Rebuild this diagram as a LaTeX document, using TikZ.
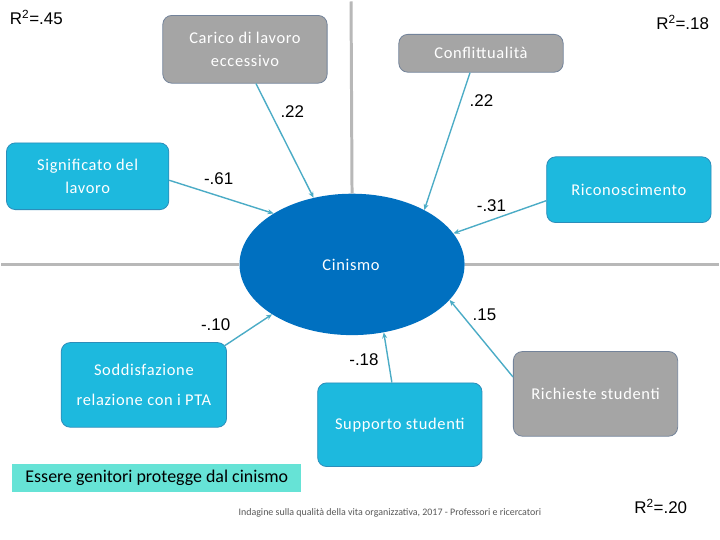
\documentclass[tikz,border=0pt]{standalone}
\usepackage{fontspec}
\setmainfont{Carlito}
\newfontfamily\coeffont{Liberation Sans}
\newfontfamily\spacedfont[LetterSpace=4]{Carlito}
\usetikzlibrary{arrows.meta,shapes.geometric}

\definecolor{boxgray}{HTML}{A5A5A5}
\definecolor{grayedge}{HTML}{73839A}
\definecolor{boxcyan}{HTML}{1DB9DE}
\definecolor{cyanedge}{HTML}{2C8DBA}
\definecolor{cinblue}{HTML}{0070C0}
\definecolor{arrteal}{HTML}{4BACC6}
\definecolor{divgray}{HTML}{B8B8B8}
\definecolor{bannerfill}{HTML}{66E3D6}

\begin{document}
\begin{tikzpicture}[x=1pt, y=-1pt,
  box/.style={draw, rounded corners=9pt, align=center, inner sep=0pt, text=white,
    minimum width=165pt, line width=0.8pt, font=\spacedfont\fontsize{16.5}{23}\selectfont},
  graybox/.style={box, fill=boxgray, draw=grayedge},
  bluebox/.style={box, fill=boxcyan, draw=cyanedge},
  coef/.style={font=\coeffont\fontsize{17}{20}\selectfont},
  arr/.style={-{Stealth[length=6pt,width=5pt]}, arrteal, line width=1.4pt},
  divider/.style={divgray, line width=3pt}
]
\fill[white] (0,0) rectangle (720,540);

% central latent variable
\node[ellipse, fill=cinblue, minimum width=226pt, minimum height=142pt, inner sep=0pt] (cin) at (352,264) {};
\node[text=white, font=\spacedfont\fontsize{16.5}{18}\selectfont] (cinlab) at (351,265) {Cinismo};

% quadrant lines
\coordinate (ltop) at (351,0);
\coordinate (lleft) at (0,264);
\coordinate (lright) at (720,264);
\draw[divider] (ltop) -- (cin.north);
\draw[divider] (lleft) -- (cin.west);
\draw[divider] (cin.east) -- (lright);

% predictors
\node[graybox, minimum height=68pt] (carico) at (244.5,48) {Carico di lavoro\\eccessivo};
\node[graybox, minimum height=38pt] (confl) at (481.5,52) {Conflittualità};
\node[bluebox, minimum width=163pt, minimum height=67pt] (signif) at (86.5,175.5) {Significato del\\lavoro};
\node[bluebox, minimum height=66pt] (ricon) at (630,189) {Riconoscimento};
\node[bluebox, minimum width=166pt, minimum height=85pt] (soddis) at (143,385) {Soddisfazione\\[8pt]relazione con i PTA};
\node[bluebox, minimum height=84pt] (supp) at (400,425) {Supporto studenti};
\node[graybox, minimum height=85pt] (richie) at (596.5,394) {Richieste studenti};

% paths
\draw[arr] ([xshift=11pt]carico.south) -- (cin.120);
\draw[arr] ([yshift=-4pt]signif.east) -- (cin.147);
\draw[arr] ([xshift=-11pt]confl.south) -- (cin.37);
\draw[arr] ([yshift=-11pt]ricon.west) -- (cin.17);
\draw[arr] ([xshift=-3pt,yshift=-4pt]soddis.north east) -- (cin.212);
\draw[arr] ([xshift=-8pt]supp.north) -- (cin.295);
\draw[arr] ([yshift=17pt]richie.west) -- (cin.340);

% coefficients
\node[coef] (c1) at (292,111) {.22};
\node[coef] (c2) at (482,100) {.22};
\node[coef] (c3) at (218,178) {-.61};
\node[coef] (c4) at (492,205) {-.31};
\node[coef] (c5) at (215,325) {-.10};
\node[coef] (c6) at (485,315) {.15};
\node[coef] (c7) at (364,360) {-.18};

\node[coef] (r1) at (35,16) {R\textsuperscript{2}=.45};
\node[coef] (r2) at (684,21) {R\textsuperscript{2}=.18};
\node[coef] (r3) at (662,507) {R\textsuperscript{2}=.20};

% note and footer
\node[fill=bannerfill, minimum width=290pt, minimum height=29pt, inner sep=0pt,
  font=\fontsize{18}{20}\selectfont] (banner) at (156,478.5) {Essere genitori protegge dal cinismo};
\node[text=black!65, font=\fontsize{10}{12}\selectfont] (footer) at (390,514)
  {Indagine sulla qualità della vita organizzativa, 2017 - Professori e ricercatori};
\end{tikzpicture}
\end{document}
